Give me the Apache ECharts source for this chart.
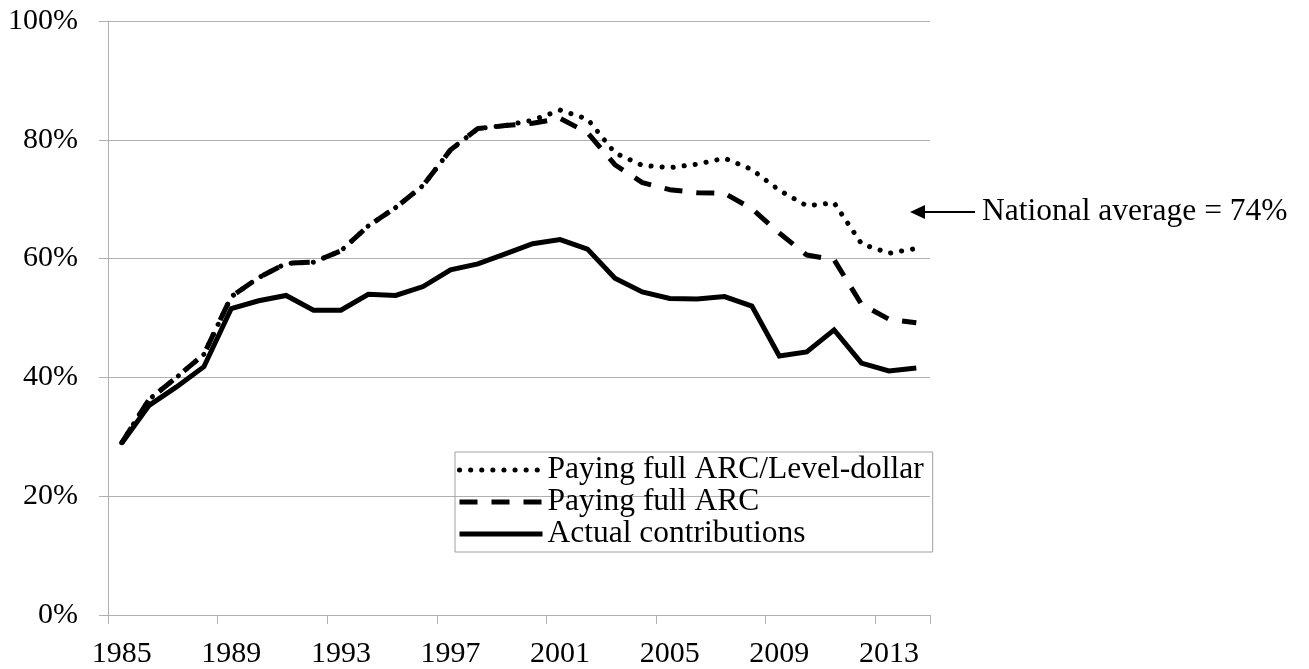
<!DOCTYPE html>
<html>
<head>
<meta charset="utf-8">
<script src="https://cdn.jsdelivr.net/npm/echarts@6/dist/echarts.min.js"></script>
<style>
  html, body { margin: 0; padding: 0; background: #fff; }
  #chart { width: 1309px; height: 669px; }
</style>
</head>
<body>
<div id="chart"></div>
<script>
var years = [];
for (var y = 1985; y <= 2014; y++) years.push(String(y));

// share of liabilities funded, percent
var levelDollar = [29.0, 36.3, 40.0, 43.9, 53.6, 56.8, 59.2, 59.4, 61.3, 65.5,
                   68.6, 72.3, 78.3, 81.9, 82.4, 83.3, 85.0, 83.5, 77.8, 75.7,
                   75.3, 75.9, 76.9, 75.0, 71.5, 68.9, 69.4, 62.5, 60.9, 61.7];
var fullArc = [29.0, 36.3, 40.0, 43.9, 53.6, 56.8, 59.2, 59.4, 61.3, 65.5,
               68.6, 72.3, 78.3, 81.9, 82.4, 82.8, 83.6, 81.2, 75.8, 72.8,
               71.6, 71.1, 71.0, 68.4, 64.3, 60.6, 59.8, 52.3, 49.8, 49.2];
var actual = [28.9, 35.3, 38.4, 41.8, 51.6, 52.9, 53.8, 51.3, 51.3, 54.0,
              53.8, 55.3, 58.1, 59.1, 60.8, 62.5, 63.2, 61.6, 56.7, 54.4,
              53.3, 53.2, 53.6, 52.0, 43.6, 44.3, 48.0, 42.4, 41.1, 41.6];

var seriesNames = ['Paying full ARC/Level-dollar', 'Paying full ARC', 'Actual contributions'];
var note = 'National average = 74%';

var font = 'Liberation Serif, Times New Roman, serif';
var gray = '#b0b0b0';

var myChart = echarts.init(document.getElementById('chart'));

var option = {
  animation: false,
  backgroundColor: '#fff',
  grid: { left: 108, right: 379, top: 21, bottom: 54 },
  legend: {
    orient: 'vertical',
    left: 455,
    top: 452,
    padding: [2, 9, 2, 2],
    itemGap: 0,
    itemWidth: 83,
    itemHeight: 14,
    borderColor: '#a0a0a0',
    borderWidth: 1,
    itemStyle: { opacity: 0 },
    lineStyle: { width: 5 },
    textStyle: { fontFamily: font, fontSize: 31.5, color: '#000', lineHeight: 31 },
    data: seriesNames
  },
  xAxis: {
    type: 'category',
    data: years,
    boundaryGap: true,
    axisLine: { lineStyle: { color: gray, width: 1 } },
    axisTick: { show: true, interval: 3, length: 9, lineStyle: { color: gray } },
    axisLabel: { interval: 3, margin: 24, fontFamily: font, fontSize: 30, color: '#000' }
  },
  yAxis: {
    type: 'value',
    min: 0,
    max: 100,
    interval: 20,
    axisLine: { show: true, lineStyle: { color: gray, width: 1 } },
    axisTick: { show: true, length: 9, lineStyle: { color: gray } },
    splitLine: { lineStyle: { color: gray, width: 1 } },
    axisLabel: { formatter: '{value}%', margin: 30, fontFamily: font, fontSize: 30, color: '#000' }
  },
  series: [
    {
      name: seriesNames[0],
      type: 'line',
      data: levelDollar,
      symbol: 'none',
      itemStyle: { color: '#000' },
      lineStyle: { color: '#000', width: 5, type: [0.1, 11], cap: 'round' }
    },
    {
      name: seriesNames[1],
      type: 'line',
      data: fullArc,
      symbol: 'none',
      itemStyle: { color: '#000' },
      lineStyle: { color: '#000', width: 5, type: [18, 14], cap: 'butt' }
    },
    {
      name: seriesNames[2],
      type: 'line',
      data: actual,
      symbol: 'none',
      itemStyle: { color: '#000' },
      lineStyle: { color: '#000', width: 5, join: 'miter' }
    }
  ],
  graphic: [
    {
      type: 'line',
      shape: { x1: 922, y1: 212, x2: 975, y2: 212 },
      style: { stroke: '#000', lineWidth: 2 }
    },
    {
      type: 'polygon',
      shape: { points: [[910, 212], [925, 205], [925, 219]] },
      style: { fill: '#000' }
    },
    {
      type: 'text',
      left: 982,
      top: 196,
      style: { text: note, fontFamily: font, fontSize: 31.5, fill: '#000' }
    }
  ]
};

myChart.setOption(option);
</script>
</body>
</html>
